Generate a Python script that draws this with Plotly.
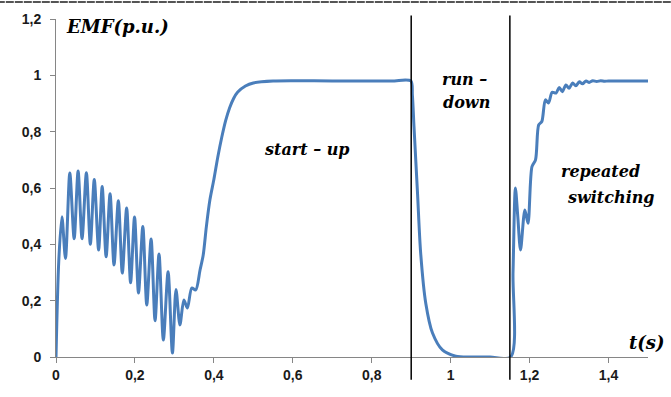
import plotly.graph_objects as go

# ---- data ----
t_start = [0, 0.007, 0.015, 0.024, 0.035, 0.046, 0.056, 0.066, 0.077, 0.087, 0.097,
           0.108, 0.117, 0.127, 0.137, 0.147, 0.158, 0.168, 0.179, 0.189, 0.199,
           0.209, 0.220, 0.230, 0.241, 0.251, 0.261, 0.272, 0.284, 0.295, 0.304,
           0.314, 0.324, 0.333, 0.344, 0.354, 0.365, 0.373, 0.381, 0.39,
           0.40, 0.41, 0.42, 0.43, 0.44, 0.45, 0.46, 0.48, 0.50, 0.55, 0.70, 0.85, 0.899]
emf_start = [0, 0.34, 0.498, 0.35, 0.653, 0.42, 0.66, 0.42, 0.654, 0.40, 0.63,
             0.38, 0.605, 0.356, 0.58, 0.327, 0.555, 0.298, 0.529, 0.264, 0.497,
             0.227, 0.463, 0.185, 0.419, 0.129, 0.366, 0.060, 0.303, 0.014, 0.24,
             0.114, 0.202, 0.174, 0.245, 0.238, 0.309, 0.362, 0.463, 0.558,
             0.63, 0.71, 0.78, 0.84, 0.885, 0.918, 0.94, 0.962, 0.973, 0.98, 0.98, 0.98, 0.98]

t_rundown = [0.903, 0.907, 0.916, 0.924, 0.937, 0.954, 0.979, 1.013, 1.05, 1.10, 1.152]
emf_rundown = [0.93, 0.82, 0.582, 0.369, 0.19, 0.085, 0.025, 0.003, 0.0, 0.0, 0.0]

t_switch = [1.158, 1.164, 1.170, 1.177, 1.188, 1.196, 1.206, 1.215, 1.223, 1.231,
            1.240, 1.248, 1.257, 1.267, 1.275, 1.283, 1.292, 1.300, 1.309, 1.317,
            1.326, 1.334, 1.343, 1.351, 1.360, 1.370, 1.380, 1.390, 1.400, 1.45, 1.5]
emf_switch = [0.30, 0.60, 0.50, 0.38, 0.522, 0.475, 0.676, 0.70, 0.824, 0.836,
              0.913, 0.902, 0.94, 0.937, 0.957, 0.942, 0.966, 0.954, 0.973, 0.963,
              0.977, 0.970, 0.980, 0.975, 0.981, 0.978, 0.981, 0.979, 0.98, 0.98, 0.98]

t = t_start + t_rundown + t_switch
emf = emf_start + emf_rundown + emf_switch

switch_times = [0.9, 1.15]

x_tickvals = [0, 0.2, 0.4, 0.6, 0.8, 1.0, 1.2, 1.4]
x_ticktext = ["0", "0,2", "0,4", "0,6", "0,8", "1", "1,2", "1,4"]
y_tickvals = [0, 0.2, 0.4, 0.6, 0.8, 1.0, 1.2]
y_ticktext = ["0", "0,2", "0,4", "0,6", "0,8", "1", "1,2"]

# ---- figure ----
fig = go.Figure()
fig.add_trace(go.Scatter(x=t, y=emf, mode="lines",
                         line=dict(color="#4a7ebb", width=3, shape="spline", smoothing=0.8),
                         hoverinfo="skip", showlegend=False))

for ts in switch_times:
    fig.add_shape(type="line", xref="x", yref="paper", x0=ts, x1=ts, y0=-0.067, y1=1.01,
                  line=dict(color="black", width=1.5))

# top border line of the picture
fig.add_shape(type="line", xref="paper", yref="paper", x0=-0.1, x1=1.1, y0=1.05, y1=1.05,
              line=dict(color="#555555", width=2, dash="8px,1px"))

serif = "DejaVu Serif"
ann = dict(showarrow=False, xref="x", yref="y",
           font=dict(family=serif, size=16, color="black", weight="bold", style="italic"))
fig.add_annotation(text="EMF(p.u.)", x=0.02, y=1.172, xanchor="left",
                   showarrow=False, xref="x", yref="y",
                   font=dict(family=serif, size=18, color="black", weight="bold", style="italic"))
fig.add_annotation(text="start – up", x=0.635, y=0.735, **ann)
fig.add_annotation(text="run –", x=1.034, y=0.984, **ann)
fig.add_annotation(text="down", x=1.040, y=0.902, **ann)
fig.add_annotation(text="repeated", x=1.38, y=0.657, **ann)
fig.add_annotation(text="switching", x=1.405, y=0.568, **ann)
fig.add_annotation(text="t(s)", x=1.496, y=0.053, showarrow=False, xref="x", yref="y",
                   font=dict(family=serif, size=18, color="black", weight="bold", style="italic"))

tickfont = dict(family="Liberation Sans", size=14, color="#1a1a1a", weight="bold")
fig.update_xaxes(range=[0, 1.5], tickvals=x_tickvals, ticktext=x_ticktext,
                 showline=True, linecolor="#868686", linewidth=1,
                 ticks="outside", ticklen=5, tickcolor="#868686",
                 showgrid=False, zeroline=False, tickfont=tickfont)
fig.update_yaxes(range=[0, 1.2], tickvals=y_tickvals, ticktext=y_ticktext,
                 showline=True, linecolor="#868686", linewidth=1,
                 ticks="outside", ticklen=5, tickcolor="#868686",
                 showgrid=False, zeroline=False, tickfont=tickfont, ticklabelstandoff=6)
fig.update_layout(width=671, height=397, plot_bgcolor="white", paper_bgcolor="white",
                  margin=dict(l=56, r=23, t=19, b=40))

fig.write_html("out.html", config={"displayModeBar": False},
               post_script="document.body.style.margin='0';")
